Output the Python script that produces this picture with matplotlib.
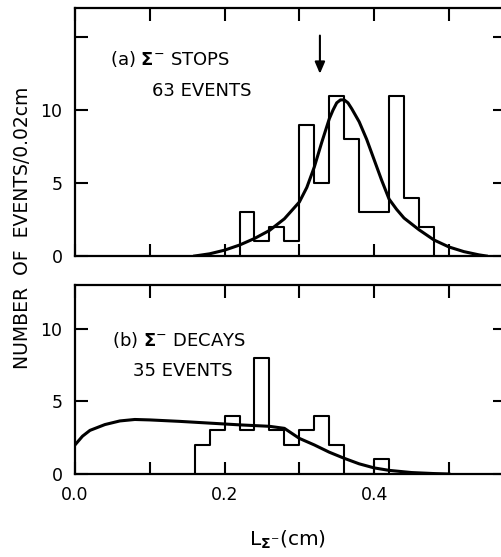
import numpy as np
import matplotlib.pyplot as plt

# histogram data, bins of 0.02 cm
edges_a = [0.22, 0.24, 0.26, 0.28, 0.30, 0.32, 0.34, 0.36, 0.38, 0.40, 0.42, 0.44, 0.46, 0.48]
counts_a = [3, 1, 2, 1, 9, 5, 11, 8, 3, 3, 11, 4, 2]

edges_b = [0.16, 0.18, 0.20, 0.22, 0.24, 0.26, 0.28, 0.30, 0.32, 0.34, 0.36, 0.38, 0.40, 0.42]
counts_b = [2, 3, 4, 3, 8, 3, 2, 3, 4, 2, 0, 0, 1]

# fitted curves
curve_a_x = [0.16, 0.18, 0.20, 0.22, 0.24, 0.26, 0.28, 0.30, 0.31, 0.32, 0.33, 0.34,
             0.345, 0.35, 0.355, 0.36, 0.365, 0.37, 0.38, 0.39, 0.40, 0.41, 0.42,
             0.43, 0.44, 0.46, 0.48, 0.50, 0.52, 0.54, 0.55]
curve_a_y = [0.0, 0.15, 0.4, 0.75, 1.2, 1.75, 2.55, 3.7, 4.7, 6.1, 7.8, 9.4,
             10.0, 10.5, 10.7, 10.7, 10.5, 10.1, 9.2, 8.0, 6.6, 5.2, 3.9,
             3.2, 2.6, 1.8, 1.1, 0.62, 0.3, 0.08, 0.0]

curve_b_x = [0.0, 0.01, 0.02, 0.04, 0.06, 0.08, 0.10, 0.14, 0.18, 0.22, 0.26, 0.28,
             0.30, 0.32, 0.34, 0.36, 0.38, 0.40, 0.42, 0.45, 0.48, 0.50]
curve_b_y = [2.0, 2.6, 3.0, 3.4, 3.65, 3.75, 3.72, 3.62, 3.5, 3.38, 3.28, 3.14,
             2.45, 2.0, 1.5, 1.08, 0.7, 0.42, 0.25, 0.1, 0.03, 0.0]

arrow_x = 0.3275

fig = plt.figure(figsize=(5.02, 5.57), dpi=100)
ax_a = fig.add_axes([75/502, 1 - 256/557, 430/502, 248/557])
ax_b = fig.add_axes([75/502, 1 - 474/557, 430/502, 189/557])

def style(ax, ymax, yticks, ylabels, show_x):
    ax.set_xlim(0, 0.575)
    ax.set_ylim(0, ymax)
    ax.set_xticks([0.0, 0.1, 0.2, 0.3, 0.4, 0.5])
    if show_x:
        ax.set_xticklabels(['0.0', '', '0.2', '', '0.4', ''])
    else:
        ax.set_xticklabels([])
    ax.set_yticks(yticks)
    ax.set_yticklabels(ylabels)
    ax.tick_params(direction='in', length=9, width=1.5, top=True, right=True,
                   labelsize=12.5, pad=9)
    for s in ax.spines.values():
        s.set_linewidth(1.6)

def draw_hist(ax, edges, counts):
    y = [0] + list(counts) + [0]
    x = [edges[0]] + list(edges)
    ax.step(x, y, where='post', color='black', lw=1.5)

draw_hist(ax_a, edges_a, counts_a)
ax_a.plot(curve_a_x, curve_a_y, color='black', lw=2.2)
style(ax_a, 17, [0, 5, 10, 15], ['0', '5', '10', ''], False)
ax_a.text(0.047, 13.1, r'(a) $\mathbf{\Sigma}^{-}$ STOPS', fontsize=13)
ax_a.text(0.103, 11.0, '63 EVENTS', fontsize=13)
ax_a.annotate('', xy=(arrow_x, 12.3), xytext=(arrow_x, 15.3),
              arrowprops=dict(arrowstyle='-|>,head_length=0.7,head_width=0.3',
                              color='black', lw=1.5))

draw_hist(ax_b, edges_b, counts_b)
ax_b.plot(curve_b_x, curve_b_y, color='black', lw=2.2)
style(ax_b, 13, [0, 5, 10], ['0', '5', '10'], True)
ax_b.text(0.05, 8.8, r'(b) $\mathbf{\Sigma}^{-}$ DECAYS', fontsize=13)
ax_b.text(0.077, 6.75, '35 EVENTS', fontsize=13)

fig.text(23/502, 1 - 228/557, 'NUMBER  OF  EVENTS/0.02cm', rotation=90,
         ha='center', va='center', fontsize=13.5)
fig.text(288/502, 1 - 546/557, r'L$_{\mathbf{\Sigma}^{-}}$(cm)',
         ha='center', va='baseline', fontsize=14.5)

fig.savefig('out.png', dpi=100)
